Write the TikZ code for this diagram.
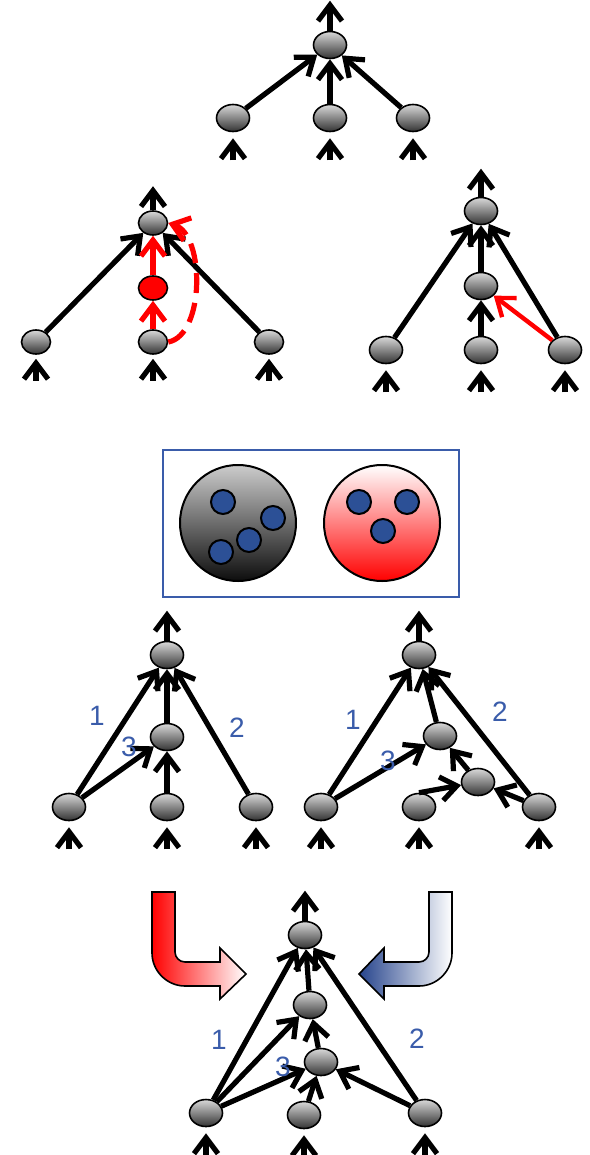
\documentclass[tikz,border=0pt]{standalone}
\usepackage{fontspec}
\setmainfont{Liberation Sans}
\usetikzlibrary{arrows.meta,shapes.geometric}

\definecolor{labblue}{RGB}{58,92,170}
\definecolor{dotblue}{RGB}{44,80,150}
\definecolor{arrblue}{RGB}{38,68,140}

\begin{document}
\begin{tikzpicture}[x=0.5pt,y=-0.5pt,
  nd/.style={ellipse,draw,line width=0.8pt,minimum width=16.5pt,minimum height=13.5pt,inner sep=0pt,
    top color=black!15,middle color=black!45,bottom color=black!80},
  nds/.style={nd,minimum width=14.5pt,minimum height=12pt},
  rnd/.style={ellipse,draw,line width=0.8pt,minimum width=14.5pt,minimum height=12pt,inner sep=0pt,fill=red},
  arr/.style={-{Straight Barb[length=8pt,width=12pt]},line width=2.6pt},
  rarr/.style={arr,red},
  lbl/.style={text=labblue,font=\fontsize{14}{16}\selectfont},
]
\useasboundingbox (0,0) rectangle (589,1155);

% tree 1
\node[nd] (r1) at (330,45) {};
\node[nd] (a1) at (233,118) {};
\node[nd] (b1) at (330,118) {};
\node[nd] (c1) at (413,118) {};
\draw[arr] (r1) -- ([yshift=15pt]r1.north);
\foreach \n in {a1,b1,c1} {
  \draw[arr] (\n) -- (r1);
  \draw[arr,shorten >=3pt] ([yshift=-14pt]\n.south) -- (\n);
}

% tree 2 (red detour)
\node[nds] (r2) at (153,223) {};
\node[rnd] (m2) at (153,288) {};
\node[nds] (a2) at (36,342) {};
\node[nds] (b2) at (153,342) {};
\node[nds] (c2) at (269,342) {};
\draw[arr] (r2) -- ([yshift=12pt]r2.north);
\draw[arr] (a2) -- (r2);
\draw[arr] (c2) -- (r2);
\draw[rarr] (b2) -- (m2);
\draw[rarr] (m2) -- (r2);
\draw[rarr,dash pattern=on 10pt off 5pt] (b2.east) .. controls (205,335) and (205,235) .. (r2.east);
\foreach \n in {a2,b2,c2}
  \draw[arr,shorten >=2pt] ([yshift=-13pt]\n.south) -- (\n);

% tree 3 (red shortcut)
\node[nd] (r3) at (481,211) {};
\node[nd] (m3) at (481,286) {};
\node[nd] (a3) at (386,350) {};
\node[nd] (b3) at (481,350) {};
\node[nd] (c3) at (565,350) {};
\draw[arr] (r3) -- ([yshift=14pt]r3.north);
\draw[arr] (a3) -- (r3);
\draw[arr] (m3) -- (r3);
\draw[arr] (c3) -- (r3);
\draw[arr] (b3) -- (m3);
\draw[rarr,line width=2.2pt] (c3) -- (m3);
\foreach \n in {a3,b3,c3}
  \draw[arr,shorten >=3pt] ([yshift=-14pt]\n.south) -- (\n);

% legend box
\draw[labblue,line width=1.2pt] (163,450) rectangle (459,597);
\shade[draw,line width=1pt,top color=black!20,middle color=black!45,bottom color=black!95] (238,523) circle[radius=29pt];
\shade[draw,line width=1pt,top color=white,middle color=red!20,bottom color=red] (382,523) circle[radius=29pt];
\foreach \p in {(223,502),(273,518),(249,540),(221,552),(359,502),(407,502),(383,531)}
  \draw[fill=dotblue,line width=1pt] \p circle[radius=6pt];

% tree 4
\node[nd] (r4) at (167,655) {};
\node[nd] (m4) at (167,737) {};
\node[nd] (a4) at (69,807) {};
\node[nd] (b4) at (167,807) {};
\node[nd] (c4) at (256,807) {};
\draw[arr] (r4) -- ([yshift=15pt]r4.north);
\draw[arr] (a4) -- (r4);
\draw[arr] (a4) -- (m4);
\draw[arr] (b4) -- (m4);
\draw[arr] (m4) -- (r4);
\draw[arr] (c4) -- (r4);
\foreach \n in {a4,b4,c4}
  \draw[arr,shorten >=3pt] ([yshift=-14pt]\n.south) -- (\n);
\node[lbl] (l41) at (97,716) {1};
\node[lbl] (l42) at (237,728) {2};
\node[lbl] (l43) at (129,747) {3};

% tree 5
\node[nd] (r5) at (419,655) {};
\node[nd] (p5) at (440,736) {};
\node[nd] (q5) at (478,782) {};
\node[nd] (a5) at (321,807) {};
\node[nd] (b5) at (419,807) {};
\node[nd] (c5) at (539,807) {};
\draw[arr] (r5) -- ([yshift=15pt]r5.north);
\draw[arr] (a5) -- (r5);
\draw[arr] (a5) -- (p5);
\draw[arr] (p5) -- (r5);
\draw[arr] (q5) -- (p5);
\draw[arr] (b5.north) -- (q5);
\draw[arr] (c5) -- (q5);
\draw[arr] (c5) -- (r5);
\foreach \n in {a5,b5,c5}
  \draw[arr,shorten >=3pt] ([yshift=-14pt]\n.south) -- (\n);
\node[lbl] (l51) at (353,720) {1};
\node[lbl] (l52) at (500,712) {2};
\node[lbl] (l53) at (388,761) {3};

% merged tree
\node[nd] (r6) at (305,935) {};
\node[nd] (m6) at (310,1005) {};
\node[nd] (n6) at (321,1062) {};
\node[nd] (a6) at (206,1113) {};
\node[nd] (b6) at (304,1115) {};
\node[nd] (c6) at (425,1113) {};
\draw[arr] (r6) -- ([yshift=15pt]r6.north);
\draw[arr] (a6) -- (r6);
\draw[arr] (a6) -- (m6);
\draw[arr] (a6) -- (n6);
\draw[arr] (b6) -- (n6);
\draw[arr] (n6) -- (m6);
\draw[arr] (m6) -- (r6);
\draw[arr] (c6) -- (n6);
\draw[arr] (c6) -- (r6);
\foreach \n in {a6,b6,c6}
  \draw[arr,shorten >=3pt] ([yshift=-14pt]\n.south) -- (\n);
\node[lbl] (l61) at (219,1040) {1};
\node[lbl] (l62) at (417,1039) {2};
\node[lbl] (l63) at (283,1067) {3};

% bent arrows into the merged tree
\shade[draw,line width=0.8pt,left color=red,right color=white]
  (152,892) -- (175,892) -- (175,952) .. controls (175,957.5) and (179.5,962) .. (185,962)
  -- (220,962) -- (220,948) -- (246,974) -- (220,999) -- (220,986) -- (185,986)
  .. controls (167,986) and (152,971) .. (152,953) -- cycle;
\shade[draw,line width=0.8pt,left color=arrblue,right color=white]
  (452,892) -- (429,892) -- (429,952) .. controls (429,957.5) and (424.5,962) .. (419,962)
  -- (384,962) -- (384,948) -- (359,974) -- (384,999) -- (384,986) -- (419,986)
  .. controls (437,986) and (452,971) .. (452,953) -- cycle;
\end{tikzpicture}
\end{document}
